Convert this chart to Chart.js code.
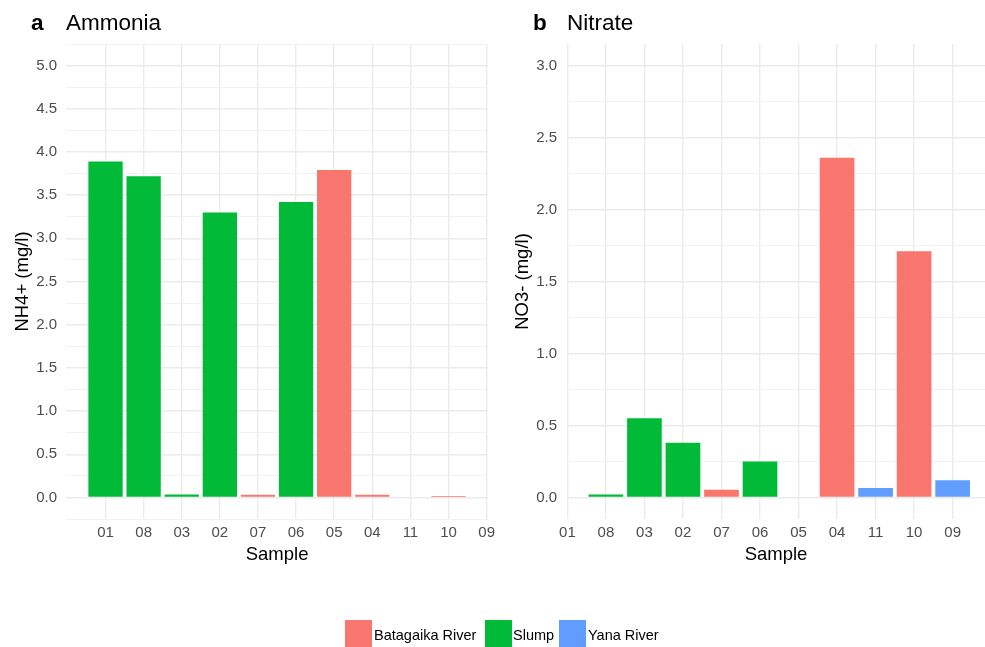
<!DOCTYPE html>
<html>
<head>
<meta charset="utf-8">
<title>Ammonia and Nitrate by Sample</title>
<script src="https://cdn.jsdelivr.net/npm/chart.js@4.4.1/dist/chart.umd.min.js"></script>
<style>
  html, body { margin: 0; padding: 0; background: #fff; }
  #page { position: relative; width: 985px; height: 647px; overflow: hidden;
          font-family: "Liberation Sans", Arial, sans-serif; color: #000; }
  canvas { position: absolute; top: 0; }
  #chartA { left: 0; }
  #chartB { left: 500px; }
  .tag { position: absolute; top: 12px; font-weight: bold; font-size: 22.5px; line-height: 22.5px; }
  .ttl { position: absolute; top: 12px; font-size: 22.5px; line-height: 22.5px; }
  .key { position: absolute; top: 620px; width: 27px; height: 27px; }
  .klab { position: absolute; top: 628px; font-size: 14.5px; line-height: 14.5px; white-space: nowrap; }
</style>
</head>
<body>
<div id="page">
  <canvas id="chartA" width="500" height="647"></canvas>
  <canvas id="chartB" width="485" height="647"></canvas>

  <div class="tag" style="left:31px">a</div>
  <div class="ttl" style="left:66px">Ammonia</div>
  <div class="tag" style="left:533px">b</div>
  <div class="ttl" style="left:567px">Nitrate</div>

  <div id="legend"></div>
</div>

<script>
// Samples in plotting order, and the source group of each sample
const samples     = ['01', '08', '03', '02', '07', '06', '05', '04', '11', '10', '09'];
const sampleGroup = ['Slump', 'Slump', 'Slump', 'Slump', 'Batagaika River', 'Slump',
                     'Batagaika River', 'Batagaika River', 'Yana River', 'Batagaika River', 'Yana River'];

// Concentrations in mg/l (null = not measured / not shown)
const ammonia = [3.89, 3.72, 0.035, 3.30, 0.03, 3.42, 3.79, 0.03, null, 0.015, null];
const nitrate = [null, 0.02, 0.55, 0.38, 0.054, 0.25, null, 2.36, 0.065, 1.71, 0.12];

// Legend groups and their fill colours
const groupNames  = ['Batagaika River', 'Slump', 'Yana River'];
const groupColors = ['#F8766D', '#00BA38', '#619CFF'];

// Labelled y ticks for each panel
const ammoniaTicks = [0.0, 0.5, 1.0, 1.5, 2.0, 2.5, 3.0, 3.5, 4.0, 4.5, 5.0];
const nitrateTicks = [0.0, 0.5, 1.0, 1.5, 2.0, 2.5, 3.0];

Chart.defaults.font.family = '"Liberation Sans", Arial, sans-serif';

const GRID = '#EBEBEB';
const GRID_MINOR = '#F1F1F1';

function isMajor(v, majors) {
  return majors.some(m => Math.abs(m - v) < 1e-9);
}

// Major ticks plus minor lines halfway between them (and half a step beyond, if inside the range)
function gridValues(majors, yMin, yMax) {
  const step = majors[1] - majors[0];
  const out = [];
  for (let i = -1; i < majors.length; i++) {
    const base = i < 0 ? majors[0] - step : majors[i];
    if (i >= 0) out.push(base);
    const mid = base + step / 2;
    if (mid >= yMin - 1e-9 && mid <= yMax + 1e-9) out.push(mid);
  }
  return out.sort((a, b) => a - b);
}

function colourFor(i) {
  return groupColors[groupNames.indexOf(sampleGroup[i])];
}

function makePanel(id, values, yTitle, majors, cfg) {
  const yVals = gridValues(majors, cfg.yMin, cfg.yMax);
  return new Chart(document.getElementById(id), {
    type: 'bar',
    data: {
      datasets: [{
        data: values.map((v, i) => ({ x: i + 1, y: v })),
        backgroundColor: ctx => colourFor(ctx.dataIndex),
        borderWidth: 0,
        barPercentage: 0.9,
        categoryPercentage: 1.0
      }]
    },
    options: {
      responsive: false,
      animation: false,
      devicePixelRatio: 1,
      layout: { padding: { left: 0, top: 44, right: cfg.padRight, bottom: 78 } },
      plugins: { legend: { display: false }, tooltip: { enabled: false } },
      scales: {
        x: {
          type: 'linear',
          min: cfg.xMin,
          max: cfg.xMax,
          offset: false,
          border: { display: false },
          grid: { offset: false, drawTicks: false, color: GRID, lineWidth: 1.4 },
          afterBuildTicks: s => { s.ticks = samples.map((_, i) => ({ value: i + 1 })); },
          afterFit: s => { s.height = 50; },
          ticks: {
            autoSkip: false, maxRotation: 0, minRotation: 0, padding: 5,
            color: '#4D4D4D', font: { size: 15 },
            callback: v => samples[Math.round(v) - 1] ?? ''
          },
          title: { display: true, text: 'Sample', color: '#000', font: { size: 18.5 },
                   padding: { top: 0, bottom: 3 } }
        },
        y: {
          type: 'linear',
          min: cfg.yMin,
          max: cfg.yMax,
          border: { display: false },
          grid: {
            drawTicks: false,
            color: c => isMajor(c.tick.value, majors) ? GRID : GRID_MINOR,
            lineWidth: c => isMajor(c.tick.value, majors) ? 1.4 : 0.9
          },
          afterBuildTicks: s => { s.ticks = yVals.map(v => ({ value: v })); },
          afterFit: s => { s.width = cfg.yWidth; },
          ticks: {
            padding: cfg.yTickPad, color: '#4D4D4D', font: { size: 15 },
            callback: v => isMajor(v, majors) ? v.toFixed(1) : ''
          },
          title: { display: true, text: yTitle, color: '#000', font: { size: 18.5 },
                   padding: { top: cfg.yTitlePad, bottom: 0 } }
        }
      }
    }
  });
}

makePanel('chartA', ammonia, 'NH4+ (mg/l)', ammoniaTicks, {
  xMin: -0.037, xMax: 11.04, yMin: -0.25, yMax: 5.25,
  yWidth: 66, yTickPad: 9, yTitlePad: 11.4, padRight: 6.7
});

makePanel('chartB', nitrate, 'NO3- (mg/l)', nitrateTicks, {
  xMin: 0.99, xMax: 11.84, yMin: -0.15, yMax: 3.15,
  yWidth: 67, yTickPad: 10, yTitlePad: 12, padRight: 0
});

// Shared legend below both panels
const legendPos = [
  { key: 345, text: 374 },
  { key: 485, text: 513 },
  { key: 559, text: 588 }
];
const legend = document.getElementById('legend');
groupNames.forEach((name, i) => {
  const sw = document.createElement('div');
  sw.className = 'key';
  sw.style.left = legendPos[i].key + 'px';
  sw.style.background = groupColors[i];
  legend.appendChild(sw);
  const lab = document.createElement('div');
  lab.className = 'klab';
  lab.style.left = legendPos[i].text + 'px';
  lab.textContent = name;
  legend.appendChild(lab);
});
</script>
</body>
</html>
